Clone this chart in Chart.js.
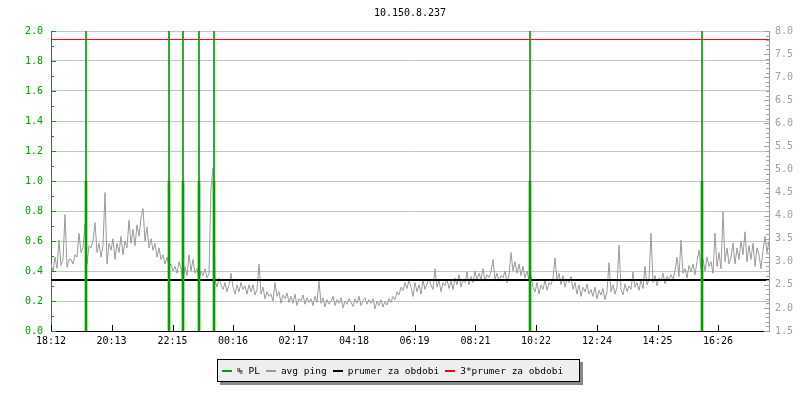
<!DOCTYPE html>
<html>
<head>
<meta charset="utf-8">
<script src="https://cdn.jsdelivr.net/npm/chart.js@4.4.1/dist/chart.umd.min.js"></script>
<style>
  html, body { margin: 0; padding: 0; background: #ffffff; }
  #wrap { position: relative; width: 800px; height: 400px; }
  #c { position: absolute; left: 0; top: 0; }
  #legend {
    position: absolute; left: 217px; top: 359px; height: 23px; width: 363px;
    box-sizing: border-box; border: 1px solid #000; background: #eeeeee;
    box-shadow: 3px 3px 0 #8a8a8a;
    font-family: "DejaVu Sans Mono", monospace; font-size: 9.5px; color: #000;
    display: flex; align-items: center; padding-left: 4px; white-space: nowrap;
  }
  #legend .sw { display: inline-block; width: 10px; height: 2px; margin-right: 5px; }
  #legend .it { display: inline-flex; align-items: center; margin-right: 6px; }
</style>
</head>
<body>
<div id="wrap">
  <canvas id="c" width="800" height="400"></canvas>
  <div id="legend"></div>
</div>
<script>
// ---------- data ----------
const chartTitle = '10.150.8.237';
const startLabel = '18:12';
const tickLabels = ['18:12','20:13','22:15','00:16','02:17','04:18','06:19','08:21','10:22','12:24','14:25','16:26'];
const rangeMinutes = 1436;
const pingStepMinutes = 4;

// avg ping (right axis, ms) one sample every 4 minutes from 18:12
const avgPing = [
  2.95,2.78,3.10,2.86,3.47,2.92,3.05,4.02,2.88,3.05,
  3.05,2.95,3.15,3.10,3.62,3.20,3.30,3.82,2.95,3.35,
  3.30,3.45,3.85,3.20,3.40,3.10,3.35,4.50,2.95,3.40,
  3.25,3.50,3.05,3.40,3.20,3.55,3.15,3.45,3.30,3.90,
  3.40,3.70,3.35,3.80,3.55,3.95,4.15,3.45,3.75,3.30,
  3.50,3.25,3.40,3.10,3.30,3.05,3.15,2.95,3.10,2.90,
  2.95,2.80,2.90,2.75,3.00,2.85,2.55,2.90,2.70,3.15,
  2.80,3.05,2.75,2.85,2.60,2.80,2.70,2.85,2.65,2.75,
  4.60,5.03,2.60,2.45,2.65,2.50,2.40,2.55,2.35,2.50,
  2.75,2.45,2.30,2.50,2.35,2.55,2.40,2.48,2.30,2.50,
  2.35,2.50,2.28,2.40,2.95,2.30,2.45,2.20,2.35,2.25,
  2.30,2.15,2.55,2.25,2.35,2.10,2.28,2.20,2.32,2.12,
  2.25,2.10,2.30,2.05,2.20,2.15,2.28,2.08,2.22,2.12,
  2.20,2.05,2.25,2.12,2.58,2.10,2.22,2.02,2.18,2.08,
  2.15,2.25,2.05,2.18,2.10,2.22,2.00,2.15,2.08,2.20,
  2.12,2.03,2.20,2.10,2.25,2.05,2.16,2.22,2.08,2.18,
  2.10,2.20,1.98,2.15,2.05,2.18,2.02,2.14,2.06,2.20,
  2.12,2.25,2.18,2.35,2.28,2.45,2.38,2.55,2.42,2.60,
  2.45,2.25,2.55,2.35,2.50,2.30,2.60,2.40,2.52,2.62,
  2.50,2.40,2.85,2.45,2.60,2.35,2.55,2.48,2.62,2.42,
  2.58,2.40,2.65,2.50,2.72,2.45,2.60,2.55,2.78,2.50,
  2.68,2.55,2.80,2.60,2.75,2.62,2.85,2.58,2.72,2.66,
  2.78,3.05,2.62,2.75,2.58,2.70,2.65,2.80,2.55,2.72,
  3.20,2.80,3.00,2.75,2.95,2.70,2.90,2.65,2.80,2.60,
  2.70,2.45,2.35,2.55,2.30,2.50,2.40,2.60,2.38,2.55,
  2.50,2.65,3.08,2.60,2.75,2.50,2.70,2.45,2.62,2.55,
  2.68,2.40,2.55,2.30,2.50,2.25,2.45,2.35,2.52,2.30,
  2.40,2.25,2.45,2.20,2.38,2.28,2.42,2.18,2.35,2.98,
  2.35,2.50,2.30,2.45,3.36,2.40,2.28,2.52,2.36,2.48,
  2.40,2.78,2.45,2.55,2.38,2.60,2.42,2.90,2.50,2.62,
  3.62,2.55,2.70,2.48,2.65,2.58,2.75,2.52,2.68,2.60,
  2.72,2.62,2.80,3.10,2.68,3.47,2.75,2.85,2.65,2.92,
  2.78,2.95,2.72,3.00,3.25,2.85,3.05,2.80,3.10,2.90,
  3.00,2.75,3.62,2.90,3.20,2.85,4.08,3.00,3.30,2.95,
  3.10,3.40,2.95,3.30,3.05,3.45,3.15,3.65,3.00,3.35,
  3.05,3.40,2.90,3.30,3.15,2.85,3.25,3.55,3.20,3.45
];

// packet loss events (minutes after 18:12)
const plMinutes = [70, 236, 264, 296, 326, 958, 1302];
const plLoss    = [1, 1, 1, 1, 1, 1, 1];          // % PL
const plPeak    = [100, 100, 100, 100, 100, 100, 100]; // clipped outage marks

const prumer = 2.605;          // prumer za obdobi
const prumer3 = 3 * prumer;    // 3*prumer za obdobi

// ---------- colours ----------
const GREEN = '#00a000';
const GRAY = '#9a9a9a';
const RED = '#ff0000';
const BLACK = '#000000';

function minutesFrom(label) {
  const [h, m] = label.split(':').map(Number);
  const [h0, m0] = startLabel.split(':').map(Number);
  let d = h * 60 + m - (h0 * 60 + m0);
  if (d < 0) d += 1440;
  return d;
}
const tickMinutes = tickLabels.map(minutesFrom);

const pingPoints = avgPing.map((v, i) => ({ x: i * pingStepMinutes, y: v }));
const plPoints = plMinutes.map((t, i) => ({ x: t, y: plLoss[i] }));
const plPeakPoints = plMinutes.map((t, i) => ({ x: t, y: plPeak[i] }));

const FONT = { family: '"DejaVu Sans Mono", monospace', size: 10 };

const innerTicks = {
  id: 'innerTicks',
  afterDatasetsDraw(chart) {
    const ctx = chart.ctx;
    const a = chart.chartArea;
    const y = chart.scales.y, y1 = chart.scales.y1, x = chart.scales.x;
    ctx.save();
    ctx.lineWidth = 1;
    ctx.strokeStyle = GREEN;
    for (let k = 0; k <= 20; k++) {
      const v = k / 10;
      const py = Math.round(y.getPixelForValue(v)) + 0.5;
      const len = (k % 2 === 0) ? 5 : 3;
      ctx.beginPath(); ctx.moveTo(a.left, py); ctx.lineTo(a.left + len, py); ctx.stroke();
    }
    ctx.strokeStyle = '#a0a0a0';
    for (let k = 15; k <= 80; k++) {
      const v = k / 10;
      const py = Math.round(y1.getPixelForValue(v)) + 0.5;
      const len = (k % 5 === 0) ? 5 : 3;
      ctx.beginPath(); ctx.moveTo(a.right, py); ctx.lineTo(a.right - len, py); ctx.stroke();
    }
    ctx.strokeStyle = BLACK;
    tickMinutes.forEach(m => {
      const px = Math.round(x.getPixelForValue(m)) + 0.5;
      ctx.beginPath(); ctx.moveTo(px, a.bottom); ctx.lineTo(px, a.bottom - 6); ctx.stroke();
    });
    ctx.restore();
  }
};

const chart = new Chart(document.getElementById('c'), {
  data: {
    datasets: [
      { type: 'bar', label: '% PL', data: plPoints, yAxisID: 'y', xAxisID: 'x',
        backgroundColor: GREEN, borderWidth: 0, barThickness: 2, grouped: false },
      { type: 'bar', label: '% PL (100)', data: plPeakPoints, yAxisID: 'y', xAxisID: 'x',
        backgroundColor: GREEN, borderWidth: 0, barThickness: 1, grouped: false },
      { type: 'line', label: 'prumer za obdobi', data: [{ x: 0, y: prumer }, { x: rangeMinutes, y: prumer }],
        yAxisID: 'y1', borderColor: BLACK, borderWidth: 2, pointRadius: 0 },
      { type: 'line', label: '3*prumer za obdobi', data: [{ x: 0, y: prumer3 }, { x: rangeMinutes, y: prumer3 }],
        yAxisID: 'y1', borderColor: RED, backgroundColor: RED, borderWidth: 1, pointRadius: 0 },
      { type: 'line', label: 'avg ping', data: pingPoints, yAxisID: 'y1',
        borderColor: GRAY, borderWidth: 1, pointRadius: 0, tension: 0 }
    ]
  },
  options: {
    responsive: false,
    animation: false,
    devicePixelRatio: 1,
    layout: { padding: { left: 0, right: 0, top: 0, bottom: 49 } },
    plugins: {
      legend: { display: false },
      tooltip: { enabled: false },
      title: {
        display: true, text: chartTitle, fullSize: false, color: BLACK,
        font: { family: FONT.family, size: 10, weight: 'normal' },
        padding: { top: 7, bottom: 12 }
      }
    },
    scales: {
      x: {
        type: 'linear', min: 0, max: rangeMinutes, offset: false,
        grid: { display: false, drawTicks: false, offset: false },
        border: { display: true, color: BLACK, width: 1 },
        afterBuildTicks: s => { s.ticks = tickMinutes.map(v => ({ value: v })); },
        afterFit: s => { s.height = 20; },
        ticks: {
          autoSkip: false, maxRotation: 0, color: BLACK, font: FONT, padding: 4,
          callback: (v, i) => tickLabels[i]
        }
      },
      y: {
        type: 'linear', position: 'left', min: 0, max: 2,
        grid: { color: '#c4c4c4', drawTicks: false, lineWidth: 1 },
        border: { display: true, color: GREEN, width: 1 },
        afterFit: s => { s.width = 51; },
        ticks: { stepSize: 0.2, color: GREEN, font: FONT, padding: 8,
          callback: v => Number(v).toFixed(1) }
      },
      y1: {
        type: 'linear', position: 'right', min: 1.5, max: 8,
        grid: { display: false, drawOnChartArea: false, drawTicks: false },
        border: { display: true, color: '#a0a0a0', width: 1 },
        afterFit: s => { s.width = 31; },
        ticks: { stepSize: 0.5, color: '#a0a0a0', font: FONT, padding: 6,
          callback: v => Number(v).toFixed(1) }
      }
    }
  },
  plugins: [innerTicks]
});

const legendItems = [
  { label: '% PL', color: GREEN },
  { label: 'avg ping', color: GRAY },
  { label: 'prumer za obdobi', color: BLACK },
  { label: '3*prumer za obdobi', color: RED }
];
const lg = document.getElementById('legend');
legendItems.forEach(it => {
  const s = document.createElement('span'); s.className = 'it';
  const sw = document.createElement('span'); sw.className = 'sw'; sw.style.background = it.color;
  const t = document.createElement('span'); t.textContent = it.label;
  s.appendChild(sw); s.appendChild(t); lg.appendChild(s);
});
</script>
</body>
</html>
